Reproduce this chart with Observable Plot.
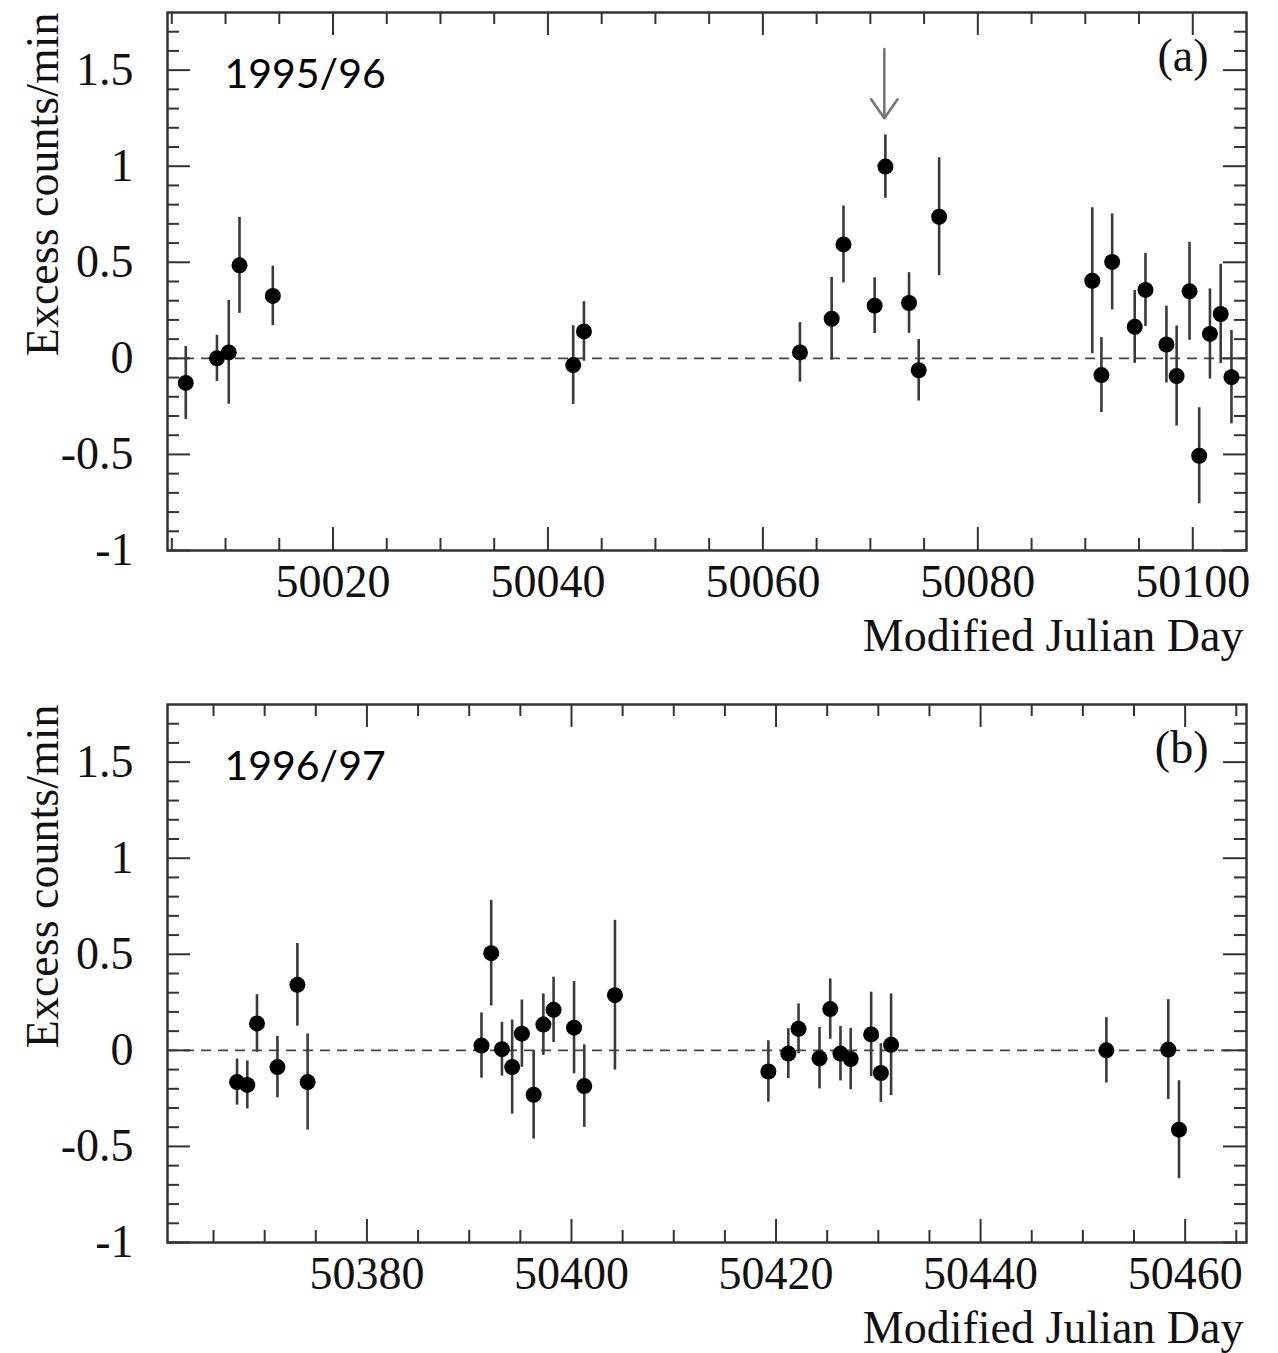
<!DOCTYPE html>
<html><head><meta charset="utf-8">
<script src="https://cdn.jsdelivr.net/npm/d3@7"></script>
<script src="https://cdn.jsdelivr.net/npm/@observablehq/plot@0.6"></script>
<style>body{margin:0;background:#fff} #chart svg{display:block}</style>
</head><body><div id="chart"></div>
<script>
// ---- Panel (a): 1995/96 ----
const mjdA = [50006.3, 50009.2, 50010.3, 50011.3, 50014.4, 50042.35, 50043.35, 50063.45, 50066.4, 50067.5, 50070.4, 50071.4, 50073.6, 50074.5, 50076.4, 50090.65, 50091.5, 50092.5, 50094.6, 50095.6, 50097.55, 50098.5, 50099.7, 50100.6, 50101.6, 50102.6, 50103.6];
const excessA = [-0.128, 0.0, 0.031, 0.484, 0.325, -0.035, 0.14, 0.031, 0.206, 0.593, 0.274, 0.998, 0.288, -0.062, 0.737, 0.404, -0.087, 0.502, 0.164, 0.356, 0.072, -0.092, 0.349, -0.507, 0.127, 0.231, -0.098];
const errA = [0.19, 0.12, 0.27, 0.25, 0.155, 0.205, 0.155, 0.155, 0.215, 0.2, 0.145, 0.165, 0.158, 0.16, 0.307, 0.38, 0.195, 0.25, 0.19, 0.19, 0.2, 0.26, 0.255, 0.25, 0.235, 0.258, 0.243];
const arrowMjdA = [50071.3];
const arrowTopA = [1.61];
const arrowTipA = [1.25];
const xDomainA = [50004.6, 50105];
const xMajorA = [50020, 50040, 50060, 50080, 50100];

// ---- Panel (b): 1996/97 ----
const mjdB = [50367.3, 50368.3, 50369.25, 50371.25, 50373.2, 50374.2, 50391.2, 50392.15, 50393.2, 50394.2, 50395.15, 50396.3, 50397.25, 50398.25, 50400.25, 50401.25, 50404.25, 50419.25, 50421.2, 50422.2, 50424.25, 50425.3, 50426.3, 50427.3, 50429.3, 50430.25, 50431.25, 50452.3, 50458.35, 50459.4];
const excessB = [-0.165, -0.18, 0.14, -0.087, 0.341, -0.165, 0.025, 0.506, 0.006, -0.087, 0.087, -0.231, 0.134, 0.211, 0.118, -0.186, 0.287, -0.11, -0.017, 0.112, -0.041, 0.215, -0.017, -0.045, 0.083, -0.118, 0.029, 0.0, 0.004, -0.413];
const errB = [0.12, 0.125, 0.15, 0.16, 0.215, 0.25, 0.17, 0.275, 0.14, 0.245, 0.175, 0.23, 0.16, 0.17, 0.24, 0.215, 0.39, 0.16, 0.13, 0.13, 0.16, 0.157, 0.142, 0.16, 0.22, 0.153, 0.265, 0.17, 0.26, 0.255];
const xDomainB = [50360.5, 50466];
const xMajorB = [50380, 50400, 50420, 50440, 50460];

// ---- shared ----
const yDomain = [-1, 1.8];
const yMajor = [-1, -0.5, 0, 0.5, 1, 1.5];
const xLabel = "Modified Julian Day";
const yLabel = "Excess counts/min";

const W = 1278, ML = 167, MR = 32, MT = 12, PH = 538;
const PW = W - ML - MR;
const MAJ = 23, MIN = 12;

function panel(o) {
  const H = MT + PH + o.marginBottom;
  const data = o.mjd.map((x, i) => ({x, y: o.excess[i], e: o.err[i]}));
  const xMinor = d3.range(Math.ceil(o.xDomain[0] / 5) * 5, o.xDomain[1], 5)
    .filter(v => !o.xMajor.includes(v) && v > o.xDomain[0] && v < o.xDomain[1]);
  const yMinor = d3.range(-10, 19).map(k => k / 10)
    .filter(v => !yMajor.includes(v) && v > yDomain[0] && v < yDomain[1]);
  const tk = {stroke: "#333", strokeWidth: 2};
  const marks = [
    Plot.ruleY([0], {stroke: "#444", strokeWidth: 1.6, strokeDasharray: "10,7"}),
    Plot.ruleX(o.xMajor, {insetTop: PH - MAJ, ...tk}),
    Plot.ruleX(xMinor, {insetTop: PH - MIN, ...tk}),
    Plot.ruleX(o.xMajor, {insetBottom: PH - MAJ, ...tk}),
    Plot.ruleX(xMinor, {insetBottom: PH - MIN, ...tk}),
    Plot.ruleY(yMajor, {insetRight: PW - MAJ, ...tk}),
    Plot.ruleY(yMinor, {insetRight: PW - MIN, ...tk}),
    Plot.ruleY(yMajor, {insetLeft: PW - MAJ, ...tk}),
    Plot.ruleY(yMinor, {insetLeft: PW - MIN, ...tk}),
    Plot.frame({stroke: "#333", strokeWidth: 2.5}),
    Plot.ruleX(data, {x: "x", y1: d => d.y - d.e, y2: d => d.y + d.e, stroke: "#3a3a3a", strokeWidth: 2.6}),
    Plot.dot(data, {x: "x", y: "y", r: 8, fill: "#000", stroke: null}),
    Plot.axisX(o.xMajor, {anchor: "bottom", tickSize: 0, tickPadding: 14, fontSize: 46, tickFormat: d => String(d), label: null, fill: "#111"}),
    Plot.axisY(yMajor, {anchor: "left", tickSize: 0, tickPadding: 34, fontSize: 46, tickFormat: d => String(d), label: null, fill: "#111"}),
    Plot.text([o.season], {frameAnchor: "top-left", textAnchor: "start", lineAnchor: "top", dx: 57, dy: 46, fontSize: 41, fontFamily: "Lato", fill: "#000"}),
    Plot.text([o.tag], {frameAnchor: "top-right", textAnchor: "end", lineAnchor: "top", dx: -38, dy: 26, fontSize: 46, fill: "#111"}),
    Plot.text([xLabel], {frameAnchor: "bottom-right", textAnchor: "end", lineAnchor: "top", dx: -3, dy: 68, fontSize: 46, fill: "#111"}),
    Plot.text([yLabel], {frameAnchor: "top-left", rotate: -90, textAnchor: "end", lineAnchor: "middle", dx: -124, dy: 0, fontSize: 46, fill: "#111"})
  ];
  if (o.arrow) {
    const ad = o.arrow.x.map((x, i) => ({x, top: o.arrow.top[i], tip: o.arrow.tip[i]}));
    marks.push(Plot.arrow(ad, {x1: "x", x2: "x", y1: "top", y2: "tip", stroke: "#777", strokeWidth: 2.6, headLength: 18, headAngle: 70}));
  }
  return Plot.plot({
    width: W, height: H,
    marginLeft: ML, marginRight: MR, marginTop: MT, marginBottom: o.marginBottom,
    x: {domain: o.xDomain},
    y: {domain: yDomain},
    style: {fontFamily: "Liberation Serif", color: "#111", background: "#fff"},
    marks
  });
}

const chart = document.getElementById("chart");
chart.append(panel({mjd: mjdA, excess: excessA, err: errA, xDomain: xDomainA, xMajor: xMajorA,
  season: "1995/96", tag: "(a)", marginBottom: 142,
  arrow: {x: arrowMjdA, top: arrowTopA, tip: arrowTipA}}));
chart.append(panel({mjd: mjdB, excess: excessB, err: errB, xDomain: xDomainB, xMajor: xMajorB,
  season: "1996/97", tag: "(b)", marginBottom: 111}));
</script>
</body></html>
